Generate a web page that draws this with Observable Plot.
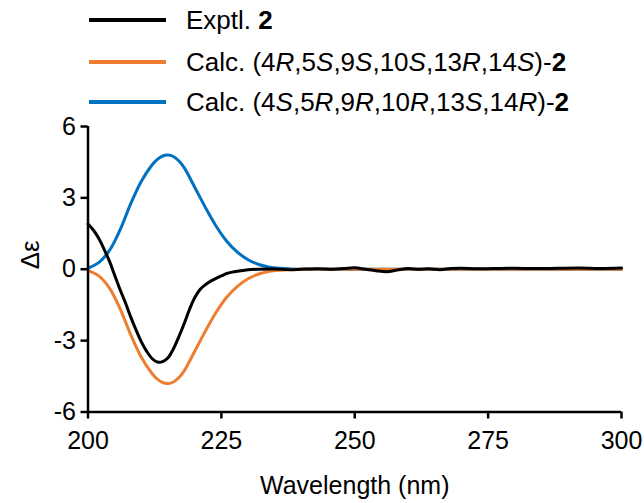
<!DOCTYPE html>
<html>
<head>
<meta charset="utf-8">
<script src="https://cdn.jsdelivr.net/npm/d3@7"></script>
<script src="https://cdn.jsdelivr.net/npm/@observablehq/plot@0.6"></script>
<style>
  html, body { margin: 0; padding: 0; background: #fff; }
  body { width: 644px; height: 503px; overflow: hidden; font-family: "Liberation Sans", Arial, sans-serif; }
  #legend { position: relative; width: 644px; height: 110px; }
  .row { position: absolute; left: 0; height: 30px; }
  .swatch { position: absolute; left: 89px; width: 77px; height: 4px; }
  .lab { position: absolute; left: 186px; white-space: nowrap; font-size: 26px; color: #000; line-height: 30px; }
  #chart svg { display: block; }
</style>
</head>
<body>
<div id="legend"></div>
<div id="chart"></div>
<script>
// ---- data ----
const seriesNames = ["Exptl.", "Calc. (4R,5S,9S,10S,13R,14S)-", "Calc. (4S,5R,9R,10R,13S,14R)-"];
const seriesColors = ["#000000", "#ED7D31", "#0070C0"];

const xTicks = [200, 225, 250, 275, 300];
const yTicks = [-6, -3, 0, 3, 6];

// Experimental CD spectrum
const exptWl = [200,201,202,203,204,205,206,207,208,209,210,211,212,213,214,215,216,217,218,219,220,221,222,223,224,225,226,227,228,229,230,232,235,238,240,243,246,248,250,252,254,256,258,260,262,264,266,268,270,273,276,280,284,288,292,296,300];
const exptDe = [1.9,1.65,1.3,0.85,0.35,-0.25,-0.85,-1.4,-2.0,-2.55,-3.05,-3.45,-3.75,-3.9,-3.88,-3.72,-3.35,-2.85,-2.3,-1.7,-1.2,-0.85,-0.65,-0.5,-0.38,-0.28,-0.18,-0.12,-0.08,-0.05,-0.02,0,0.01,-0.02,0,0.02,0,0.03,0.06,0,-0.06,-0.1,-0.03,0.03,0,0.02,-0.02,0.03,0.04,0.02,0.03,0.04,0.03,0.04,0.05,0.03,0.05];

// Calculated ECD spectra
const calcWl = [200,202,204,206,208,210,212,213,214,215,216,217,218,220,222,224,226,228,230,232,234,236,238,240,250,260,270,280,290,300];
const calcA = [-0.05,-0.28,-0.78,-1.65,-2.75,-3.7,-4.38,-4.62,-4.76,-4.8,-4.74,-4.56,-4.28,-3.45,-2.6,-1.82,-1.18,-0.72,-0.4,-0.2,-0.09,-0.04,-0.015,0,0,0,0,0,0,0];
const calcB = [0.05,0.28,0.78,1.65,2.75,3.7,4.38,4.62,4.76,4.8,4.74,4.56,4.28,3.45,2.6,1.82,1.18,0.72,0.4,0.2,0.09,0.04,0.015,0,0,0,0,0,0,0];

// ---- legend ----
const legend = document.getElementById("legend");
const rowTops = [5, 47, 87];
seriesNames.forEach((name, i) => {
  const row = document.createElement("div");
  row.className = "row";
  row.style.top = rowTops[i] + "px";
  const label = name.replace(/(\d)([RS])/g, "$1<i>$2</i>") + (i === 0 ? " <b>2</b>" : "<b>2</b>");
  row.innerHTML = `<div class="swatch" style="top:13px;background:${seriesColors[i]}"></div>` +
    `<div class="lab">${label}</div>`;
  legend.appendChild(row);
});

// ---- chart ----
const expt = exptWl.map((x, i) => ({x, y: exptDe[i]}));
const cA = calcWl.map((x, i) => ({x, y: calcA[i]}));
const cB = calcWl.map((x, i) => ({x, y: calcB[i]}));

const chart = Plot.plot({
  width: 644,
  height: 393,
  marginTop: 16,
  marginBottom: 91.5,
  marginLeft: 87.5,
  marginRight: 23,
  style: {fontFamily: "Liberation Sans, Arial, sans-serif", fontSize: "25px", color: "#000", background: "#fff"},
  x: {domain: [200, 300]},
  y: {domain: [-6, 6]},
  marks: [
    Plot.axisX({ticks: xTicks, tickSize: 7, tickPadding: 12, strokeWidth: 2.5, fontSize: 25, label: null, tickFormat: d => String(d)}),
    Plot.axisY({ticks: yTicks, tickSize: 7, tickPadding: 5, strokeWidth: 2.5, fontSize: 25, label: null, tickFormat: d => String(d)}),
    Plot.lineY(cB, {x: "x", y: "y", stroke: seriesColors[2], strokeWidth: 3, curve: "catmull-rom"}),
    Plot.lineY(cA, {x: "x", y: "y", stroke: seriesColors[1], strokeWidth: 3, curve: "catmull-rom"}),
    Plot.lineY(expt, {x: "x", y: "y", stroke: seriesColors[0], strokeWidth: 3, curve: "catmull-rom"}),
    Plot.ruleX([200], {stroke: "#000", strokeWidth: 2.5}),
    Plot.ruleY([-6], {stroke: "#000", strokeWidth: 2.5}),
    Plot.text(["Δε"], {frameAnchor: "left", dx: -57, rotate: -90, fontSize: 26, fill: "#000"}),
    Plot.text(["Wavelength (nm)"], {frameAnchor: "bottom", dy: 82, fontSize: 25, fill: "#000"})
  ]
});
document.getElementById("chart").appendChild(chart);
</script>
</body>
</html>
